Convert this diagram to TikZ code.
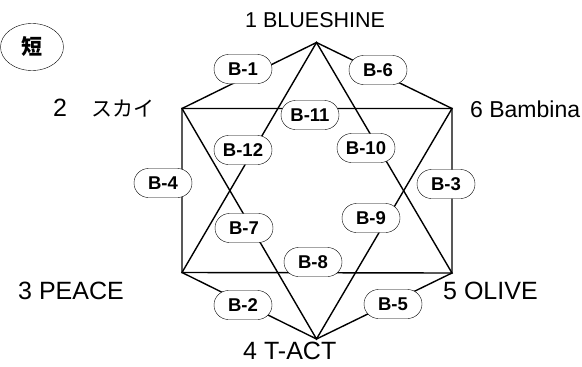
\documentclass[tikz,border=0pt]{standalone}
\usepackage{fontspec}
\setmainfont{Liberation Sans}
\newfontfamily\cjk{Noto Sans CJK JP}
\usetikzlibrary{shapes.geometric}
\tikzset{
	bnode/.style={draw, fill=white, rounded corners=14.5pt, minimum width=58pt, minimum height=29pt, inner sep=0pt, font=\bfseries\fontsize{18.5}{18.5}\selectfont},
	vlabel/.style={anchor=west, inner sep=0pt, font=\fontsize{25}{25}\selectfont},
	edge/.style={line width=1.4pt}
}
\begin{document}
\begin{tikzpicture}[x=1pt,y=-1pt]
		\useasboundingbox (0,0) rectangle (582,367);
		% corners of the hexagon
		\coordinate (v1) at (316.5,42.5);
		\coordinate (v2) at (182,108.5);
		\coordinate (v3) at (182,272.5);
		\coordinate (v4) at (316.5,339);
		\coordinate (v5) at (452,273);
		\coordinate (v6) at (452,108.5);
		\draw[edge] (v1) -- (v2) -- (v3) -- (v4) -- (v5) -- (v6) -- cycle;
		\draw[edge] (v1) -- (v3) -- (v5) -- cycle;
		\draw[edge] (v2) -- (v4) -- (v6) -- cycle;
		% labels on the edges
		\foreach \n/\x/\y in {1/243/69, 2/243/305, 3/446/184, 4/163/183, 5/393/304, 6/378/70, 7/244/228, 8/313/262, 9/371/218, 10/366/148, 11/310/115, 12/243/150}
		{
			\node[bnode] (b\n) at (\x,\y) {B-\n};
		}
		% names at the corners
		\node[vlabel, font=\fontsize{21.5}{21.5}\selectfont] (l1) at (245,20) {1 BLUESHINE};
		\node[vlabel] (l2) at (53,108) {2\hspace{24pt}{\cjk\fontsize{21}{21}\selectfont スカイ}};
		\node[vlabel] (l3) at (18,291) {3 PEACE};
		\node[vlabel] (l4) at (243,351) {4 T-ACT};
		\node[vlabel] (l5) at (443,291) {5 OLIVE};
		\node[vlabel, font=\fontsize{23}{23}\selectfont] (l6) at (470,109) {6 Bambina};
		\node[font=\cjk\bfseries\fontsize{21}{21}\selectfont] (tan) at (32,47) {短};
		\draw (tan.center) ellipse (31.5 and 23.5);
\end{tikzpicture}
\end{document}
